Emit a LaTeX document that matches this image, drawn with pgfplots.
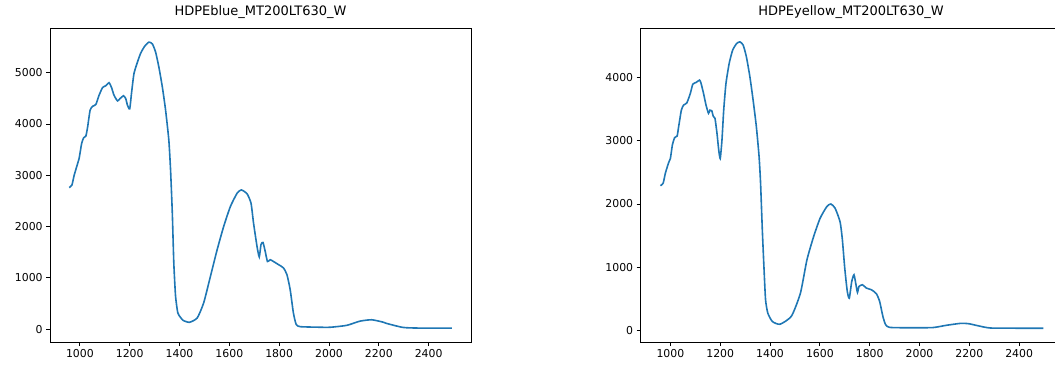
\documentclass[border=0pt]{standalone}
\usepackage{pgfplots}
\pgfplotsset{compat=1.18}
\usepackage{fontspec}
\setmainfont{DejaVu Sans}
\definecolor{mplblue}{HTML}{1F77B4}
\pgfplotsset{
  myax/.style={
    scale only axis, width=421pt, height=314pt,
    xmin=880, xmax=2570,
    xtick={1000,1200,...,2400},
    axis line style={black, line width=0.85pt},
    tick style={black, line width=0.85pt},
    major tick length=3.8pt,
    tick align=outside,
    xtick pos=bottom, ytick pos=left,
    /pgf/number format/assume math mode=true,
    /pgf/number format/set thousands separator={},
    ticklabel style={font=\fontsize{10.9}{13}\selectfont},
    title style={at={(0.5,1)}, anchor=base, yshift=7pt, font=\fontsize{13}{15}\selectfont},
  },
  myline/.style={color=mplblue, line width=1.6pt, mark=none, smooth, tension=0.35},
}
\begin{document}
\begin{tikzpicture}
\path[use as bounding box] (0pt,0pt) rectangle (1055pt,367pt);
\clip (0pt,0pt) rectangle (1055pt,367pt);
\begin{axis}[myax, at={(50pt,24.7pt)}, anchor=south west,
  ymin=-255, ymax=5865, ytick={0,1000,...,5000},
  title={HDPEblue\_MT200LT630\_W}]
\addplot[myline] coordinates {
(957,2760) (968,2810) (977,3000) (991,3230) (997,3330) (1007,3620) (1015,3730)
(1024,3765) (1031,3940) (1041,4270) (1051,4345) (1064,4380) (1077,4560)
(1091,4710) (1104,4745) (1117,4805) (1127,4710) (1137,4560) (1151,4450)
(1161,4495) (1175,4550) (1184,4495) (1191,4365) (1200,4295) (1207,4590)
(1217,4980) (1231,5205) (1244,5380) (1260,5515) (1277,5595) (1291,5560)
(1304,5400) (1317,5110) (1331,4720) (1344,4270) (1357,3685) (1364,3100)
(1371,2260) (1377,1290) (1384,645) (1393,320) (1404,230) (1415,170)
(1440,135) (1471,220) (1497,515) (1524,1030) (1551,1550) (1577,2000)
(1604,2390) (1631,2650) (1648,2715) (1671,2640) (1687,2455) (1697,2070)
(1711,1615) (1720,1410) (1727,1650) (1735,1690) (1744,1515) (1753,1320)
(1764,1355) (1777,1320) (1797,1260) (1817,1195) (1831,1065) (1844,775)
(1857,320) (1868,95) (1884,50) (1950,40) (2004,38) (2071,75) (2124,157)
(2171,184) (2217,138) (2231,113) (2297,35) (2364,22) (2493,22)
};
\end{axis}
\begin{axis}[myax, at={(640.5pt,24.7pt)}, anchor=south west,
  ymin=-188, ymax=4780, ytick={0,1000,...,4000},
  title={HDPEyellow\_MT200LT630\_W}]
\addplot[myline] coordinates {
(960,2290) (971,2330) (980,2490) (993,2655) (1000,2720) (1008,2935) (1017,3050)
(1027,3075) (1033,3220) (1044,3485) (1053,3565) (1066,3600) (1080,3750)
(1090,3895) (1104,3925) (1117,3960) (1123,3910) (1133,3750) (1143,3565)
(1153,3435) (1159,3485) (1166,3475) (1172,3390) (1179,3355) (1187,3120)
(1194,2855) (1200,2720) (1207,3010) (1214,3485) (1223,3905) (1236,4225)
(1250,4435) (1266,4540) (1279,4565) (1292,4515) (1305,4330) (1319,4015)
(1332,3645) (1345,3225) (1356,2750) (1362,2330) (1369,1590) (1376,960)
(1382,485) (1391,275) (1409,142) (1440,98) (1486,226) (1522,590)
(1548,1115) (1575,1485) (1601,1775) (1628,1960) (1644,2000) (1661,1935)
(1681,1720) (1690,1450) (1700,980) (1710,620) (1718,510) (1728,774)
(1737,880) (1745,722) (1751,600) (1757,695) (1771,722) (1787,669)
(1807,643) (1827,580) (1840,458) (1853,221) (1864,90) (1880,48)
(1950,42) (2053,45) (2106,80) (2166,112) (2199,105) (2239,70) (2285,38)
(2400,35) (2497,35)
};
\end{axis}
\end{tikzpicture}
\end{document}
